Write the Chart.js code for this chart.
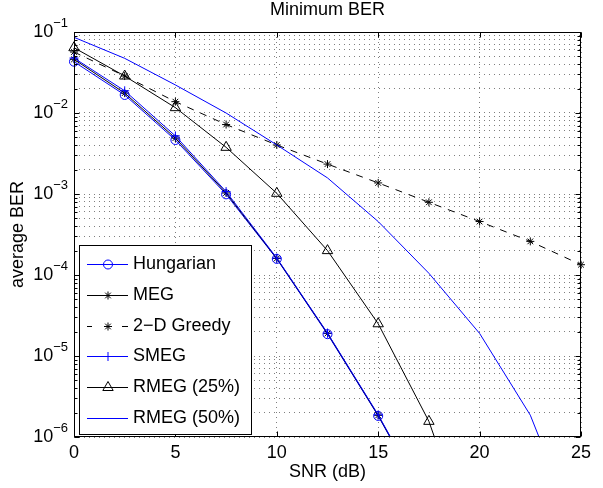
<!DOCTYPE html>
<html>
<head>
<meta charset="utf-8">
<title>Minimum BER</title>
<script src="https://cdn.jsdelivr.net/npm/chart.js@4.4.0/dist/chart.umd.min.js"></script>
<style>
  html, body { margin: 0; padding: 0; background: #fff; }
  canvas { display: block; }
</style>
</head>
<body>
<canvas id="ber" width="603" height="488"></canvas>
<script>
// SNR points (dB)
const snr = [0, 2.5, 5, 7.5, 10, 12.5, 15, 17.5, 20, 22.5, 25];

// average BER (values past 1e-6 only continue the line to the axis)
const hungarian = [0.043, 0.0167, 0.00464, 0.00099, 1.58e-4, 1.86e-5, 1.82e-6, 1.35e-7];
const meg       = [0.046, 0.0176, 0.0049, 0.00103, 1.6e-4, 1.9e-5, 1.85e-6, 1.38e-7];
const greedy2d  = [0.0566, 0.0286, 0.0138, 0.0072, 0.00403, 0.00234, 0.00137, 0.00079, 0.000457, 0.00026, 1.34e-4];
const smeg      = [0.0477, 0.0188, 0.00521, 0.00107, 1.62e-4, 1.92e-5, 1.88e-6, 1.4e-7];
const rmeg25    = [0.064, 0.0286, 0.01164, 0.00377, 0.00102, 2.0e-4, 2.5e-5, 1.56e-6, 2.6e-8];
const rmeg50    = [0.086, 0.0473, 0.0222, 0.0100, 0.00403, 0.00158, 0.000457, 1.05e-4, 1.9e-5, 1.86e-6, 5e-8];

const xTicks = [0, 5, 10, 15, 20, 25];
const yDecades = [-6, -5, -4, -3, -2, -1];

const FONT = 'Liberation Sans, Arial, Helvetica, sans-serif';
const BLUE = '#0000ff';

function pts(ys) {
  return ys.map((y, i) => ({ x: snr[i], y: y }));
}

// grid values on the log axis: 1..9 x each decade
const yGrid = [];
yDecades.forEach(d => {
  for (let k = 1; k <= 9; k++) {
    if (d === -1 && k > 1) break;
    yGrid.push(k * Math.pow(10, d));
  }
});

const matlabAxes = {
  id: 'matlabAxes',
  afterDraw(chart) {
    const ctx = chart.ctx;
    const a = chart.chartArea;
    const xs = chart.scales.x, ys = chart.scales.y;
    ctx.save();

    // box
    ctx.strokeStyle = '#000';
    ctx.lineWidth = 1;
    ctx.setLineDash([]);
    const L = Math.round(a.left) + 0.5, R = Math.round(a.right) - 0.5;
    const T = Math.round(a.top) + 0.5, B = Math.round(a.bottom) - 0.5;
    ctx.strokeRect(L, T, R - L, B - T);

    // inward ticks
    ctx.beginPath();
    xTicks.forEach(v => {
      const px = Math.round(xs.getPixelForValue(v)) + 0.5;
      ctx.moveTo(px, B); ctx.lineTo(px, B - 5);
      ctx.moveTo(px, T); ctx.lineTo(px, T + 5);
    });
    yGrid.forEach(v => {
      const py = Math.round(ys.getPixelForValue(v)) + 0.5;
      const major = Math.abs(Math.log10(v) - Math.round(Math.log10(v))) < 1e-9;
      const len = major ? 5 : 3;
      ctx.moveTo(L, py); ctx.lineTo(L + len, py);
      ctx.moveTo(R, py); ctx.lineTo(R - len, py);
    });
    ctx.stroke();

    // y tick labels 10^n
    ctx.fillStyle = '#000';
    ctx.textBaseline = 'middle';
    yDecades.forEach(d => {
      const py = ys.getPixelForValue(Math.pow(10, d));
      const exp = '\u2212' + Math.abs(d);
      ctx.font = '13px ' + FONT;
      const ew = ctx.measureText(exp).width;
      ctx.textAlign = 'right';
      ctx.fillText(exp, a.left - 6, py - 9);
      ctx.font = '18px ' + FONT;
      ctx.fillText('10', a.left - 6 - ew, py);
    });

    // title
    ctx.font = '18px ' + FONT;
    ctx.textAlign = 'center';
    ctx.fillText('Minimum BER', (a.left + a.right) / 2, 10);

    // legend
    const lx = 79.5, ly = 245.5, lw = 172, lh = 189;
    ctx.fillStyle = '#fff';
    ctx.fillRect(lx, ly, lw, lh);
    ctx.strokeStyle = '#000';
    ctx.strokeRect(lx, ly, lw, lh);
    chart.data.datasets.forEach((ds, i) => {
      const y = Math.round(264 + i * 30.8) + 0.5;
      ctx.strokeStyle = ds.borderColor;
      ctx.lineWidth = ds.borderWidth;
      ctx.beginPath();
      if (ds.borderDash) {
        ctx.moveTo(87, y); ctx.lineTo(92, y);
        ctx.moveTo(122, y); ctx.lineTo(128, y);
      } else {
        ctx.moveTo(87, y); ctx.lineTo(128, y);
      }
      ctx.stroke();
      if (ds.pointRadius > 0) {
        ctx.fillStyle = 'rgba(0,0,0,0)';
        ctx.strokeStyle = ds.pointBorderColor;
        ctx.lineWidth = 1;
        Chart.helpers.drawPoint(ctx, {
          pointStyle: ds.pointStyle,
          radius: ds.pointRadius,
          rotation: 0,
          borderWidth: 1
        }, 108, y);
      }
      ctx.fillStyle = '#000';
      ctx.font = '18px ' + FONT;
      ctx.textAlign = 'left';
      ctx.textBaseline = 'middle';
      ctx.fillText(ds.label, 133, y);
    });

    ctx.restore();
  }
};

function series(label, ys, color, style, radius, dash, order) {
  return {
    label: label,
    data: pts(ys),
    borderColor: color,
    borderWidth: 1,
    borderDash: dash,
    backgroundColor: 'rgba(0,0,0,0)',
    pointStyle: style,
    pointRadius: radius,
    pointBorderColor: color,
    pointBackgroundColor: 'rgba(0,0,0,0)',
    pointBorderWidth: 1,
    tension: 0,
    order: order,
    clip: { left: 10, top: 10, right: 10, bottom: 0 }
  };
}

new Chart(document.getElementById('ber').getContext('2d'), {
  type: 'line',
  data: {
    datasets: [
      series('Hungarian', hungarian, BLUE, 'circle', 4.5, undefined, 5),
      series('MEG', meg, '#000', 'star', 4, undefined, 4),
      series('2\u2212D Greedy', greedy2d, '#000', 'star', 4, [7, 7], 3),
      series('SMEG', smeg, BLUE, 'cross', 4.5, undefined, 2),
      series('RMEG (25%)', rmeg25, '#000', 'triangle', 6, undefined, 1),
      series('RMEG (50%)', rmeg50, BLUE, false, 0, undefined, 0)
    ]
  },
  options: {
    responsive: false,
    animation: false,
    devicePixelRatio: 1,
    layout: { padding: { top: 32, right: 22, left: 0, bottom: 0 } },
    plugins: {
      legend: { display: false },
      tooltip: { enabled: false },
      title: { display: false }
    },
    scales: {
      x: {
        type: 'linear',
        min: 0,
        max: 25,
        afterBuildTicks(scale) {
          scale.ticks = xTicks.map(v => ({ value: v }));
        },
        afterFit(scale) { scale.height = 51; },
        ticks: {
          color: '#000',
          font: { family: FONT, size: 18 },
          padding: 5,
          maxRotation: 0,
          callback: v => String(v)
        },
        grid: { color: 'rgba(0,0,0,0.5)', lineWidth: 1, drawTicks: false },
        border: { display: false, dash: [1, 4] },
        title: {
          display: true,
          text: 'SNR (dB)',
          color: '#000',
          font: { family: FONT, size: 18 },
          padding: { top: 0, bottom: 5 }
        }
      },
      y: {
        type: 'logarithmic',
        min: 1e-6,
        max: 1e-1,
        afterBuildTicks(scale) {
          scale.ticks = yGrid.map(v => ({ value: v }));
        },
        afterFit(scale) { scale.width = 74; },
        ticks: { display: false },
        grid: { color: 'rgba(0,0,0,0.5)', lineWidth: 1, drawTicks: false },
        border: { display: false, dash: [1, 4] },
        title: {
          display: true,
          text: 'average BER',
          color: '#000',
          font: { family: FONT, size: 18 },
          padding: { top: 7, bottom: 0 }
        }
      }
    }
  },
  plugins: [matlabAxes]
});
</script>
</body>
</html>
